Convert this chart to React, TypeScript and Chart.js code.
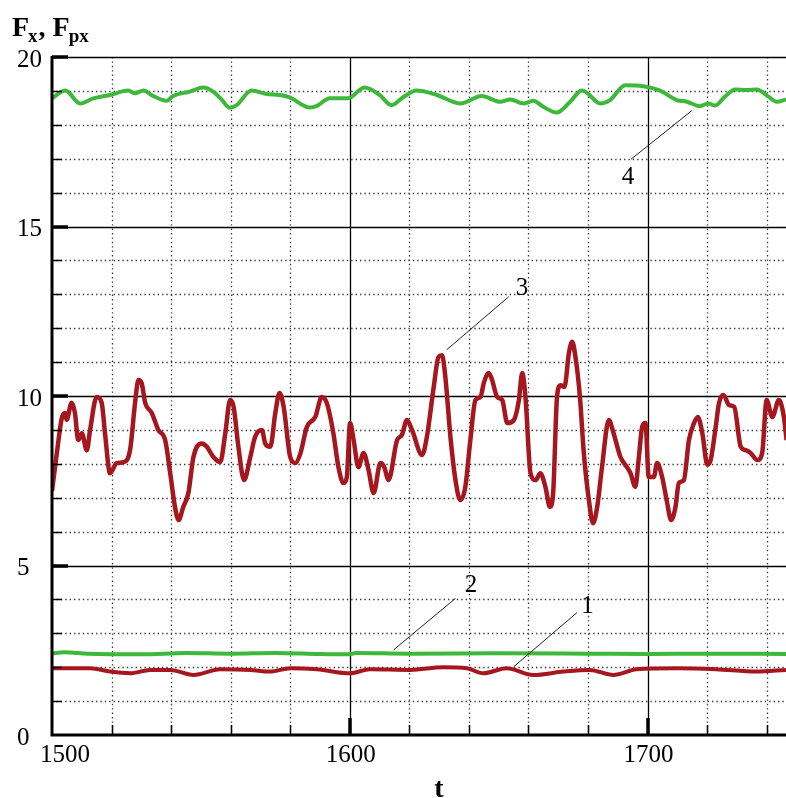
import React, { useEffect, useRef } from 'react';
import { Chart, registerables } from 'chart.js';

Chart.register(...registerables);

// ---- data ----
const t3 = [1500, 1501.6, 1503.3, 1504.4, 1504.9, 1506.6, 1507.7, 1508.8, 1510, 1511.7, 1512.8, 1515, 1516.7, 1517.8, 1519.5, 1521.7, 1524, 1526.2, 1527.9, 1529, 1530.1, 1531.3, 1533.5, 1535.7, 1538, 1539.7, 1541.3, 1542.5, 1544.1, 1545.8, 1547.5, 1550.3, 1552, 1554.2, 1556.5, 1558.2, 1559.8, 1561, 1562.6, 1564.5, 1566.6, 1568.2, 1570.5, 1571.6, 1573.3, 1575, 1576.4, 1577.8, 1580, 1581.7, 1583.4, 1585.6, 1588.4, 1590.6, 1592.3, 1594.5, 1596.2, 1597.9, 1599, 1600.1, 1601.3, 1602.9, 1604.6, 1606.3, 1608, 1610.3, 1611.6, 1613, 1615.9, 1617.5, 1619.2, 1620.9, 1624.3, 1625.9, 1628.2, 1629.8, 1631, 1632.1, 1633.8, 1635.5, 1637.1, 1638.8, 1640.5, 1642.2, 1643.9, 1645, 1646.7, 1647.8, 1649.5, 1651.2, 1652.9, 1655.1, 1656.8, 1657.9, 1659, 1660.7, 1662.4, 1664, 1665.7, 1667.2, 1668.3, 1669.6, 1670.8, 1672.1, 1673.6, 1674.7, 1675.8, 1677.3, 1678.6, 1680.3, 1681.7, 1683.1, 1684.7, 1687, 1688.6, 1690.9, 1693.1, 1694.3, 1695.9, 1697, 1698.2, 1699.3, 1700.4, 1702.1, 1703.2, 1704.9, 1706.6, 1707.9, 1709.4, 1710.5, 1712.2, 1713.9, 1715.6, 1716.9, 1718.4, 1720.1, 1721.2, 1722.9, 1724, 1725.5, 1727.4, 1729.1, 1731.3, 1733, 1734.6, 1736.9, 1738.5, 1740, 1741.9, 1744.1, 1745.8, 1746.7];
const f3 = [7.2, 8.3, 9.35, 9.5, 9.3, 9.8, 9.5, 8.7, 8.9, 8.4, 9.0, 9.97, 9.8, 8.9, 7.72, 8.02, 8.05, 8.4, 9.8, 10.47, 10.38, 9.8, 9.5, 9.0, 8.7, 7.72, 6.73, 6.34, 6.73, 7.14, 8.2, 8.6, 8.5, 8.2, 8.05, 8.9, 9.88, 9.68, 8.5, 7.52, 8.2, 8.8, 9.0, 8.6, 8.5, 9.5, 10.09, 9.68, 8.2, 8.02, 8.3, 9.09, 9.38, 9.97, 9.79, 8.9, 7.9, 7.43, 7.6, 9.2, 8.7, 7.9, 8.32, 7.82, 7.14, 8.02, 7.9, 7.52, 8.7, 8.85, 9.29, 9.0, 8.26, 8.8, 10.27, 11.15, 11.2, 10.56, 8.8, 7.52, 6.93, 7.32, 8.7, 9.88, 9.97, 10.38, 10.68, 10.47, 9.97, 9.88, 9.2, 9.29, 9.88, 10.68, 9.97, 7.72, 7.52, 7.72, 7.32, 6.73, 7.14, 9.97, 10.32, 10.27, 11.27, 11.6, 11.15, 9.97, 8.32, 6.93, 6.25, 6.73, 7.9, 9.29, 8.9, 8.2, 7.9, 7.72, 7.32, 8.11, 9.09, 9.2, 7.61, 7.61, 8.02, 7.61, 6.84, 6.34, 6.73, 7.43, 7.52, 8.7, 9.2, 9.38, 8.9, 7.97, 8.11, 9.09, 9.79, 10.03, 9.73, 9.68, 8.5, 8.4, 8.32, 8.11, 8.32, 9.88, 9.38, 9.88, 9.38, 8.7];

const t4 = [1500, 1504.5, 1509.4, 1513.9, 1519.5, 1525.6, 1527.9, 1530.7, 1534, 1538.5, 1540.7, 1546.3, 1550.8, 1554.1, 1556.9, 1559.7, 1562, 1567, 1572, 1576.5, 1579.8, 1586.6, 1588.8, 1593.3, 1599.4, 1605, 1610, 1614, 1617.9, 1622.4, 1629.2, 1637.1, 1644.3, 1650.5, 1653.9, 1658.3, 1661.7, 1665, 1669.5, 1674, 1677.9, 1679.6, 1684.1, 1687.4, 1692.5, 1698.6, 1704.2, 1709.8, 1713.2, 1717.6, 1720.4, 1722.7, 1726, 1729.4, 1733.3, 1736.7, 1740.6, 1743.4, 1746.5];
const f4 = [18.78, 19.01, 18.63, 18.78, 18.88, 19.01, 18.93, 19.01, 18.85, 18.71, 18.85, 18.98, 19.1, 18.98, 18.75, 18.5, 18.58, 19.01, 18.91, 18.88, 18.81, 18.51, 18.55, 18.78, 18.78, 19.1, 18.88, 18.58, 18.81, 19.01, 18.88, 18.63, 18.85, 18.68, 18.75, 18.63, 18.71, 18.53, 18.36, 18.68, 19.01, 18.95, 18.63, 18.73, 19.17, 19.14, 19.01, 18.73, 18.68, 18.55, 18.63, 18.57, 18.83, 19.04, 19.03, 19.04, 18.83, 18.68, 18.75];

const t2 = [1500, 1504, 1512, 1530, 1545, 1560, 1575, 1590, 1600, 1602, 1620, 1650, 1680, 1700, 1720, 1746.5];
const f2 = [2.4, 2.44, 2.4, 2.38, 2.42, 2.4, 2.42, 2.39, 2.38, 2.42, 2.4, 2.41, 2.4, 2.39, 2.4, 2.39];

const t1 = [1500, 1512.8, 1519.5, 1526.2, 1533, 1539.7, 1547.5, 1556.5, 1566.6, 1573.3, 1580, 1589, 1600.1, 1606.8, 1620.3, 1631.4, 1639.3, 1644.8, 1652.7, 1661.6, 1671.7, 1680.6, 1688.5, 1696.3, 1709.8, 1723, 1736.7, 1746.5];
const f1 = [1.97, 1.97, 1.87, 1.82, 1.92, 1.92, 1.77, 1.94, 1.92, 1.87, 1.97, 1.94, 1.82, 1.94, 1.92, 2.0, 1.97, 1.82, 1.97, 1.77, 1.87, 1.92, 1.77, 1.94, 1.97, 1.94, 1.87, 1.92];

const xTickLabels = ['1500', '1600', '1700'];
const yTickLabels = ['0', '5', '10', '15', '20'];

// curve labels and leader lines (data units)
const noteLabels = ['4', '3', '2', '1'];
const noteFrom = [[1714.9, 18.42], [1632.5, 11.36], [1614.7, 2.51], [1655.0, 2.01]];
const noteTo = [[1694.4, 16.98], [1653.4, 12.93], [1635.5, 4.03], [1676.3, 3.61]];
const noteAt = [[1693.4, 16.45], [1657.8, 13.17], [1640.7, 4.4], [1679.8, 3.78]];

const X_MIN = 1500;
const X_MAX = 1746.5;
const Y_MIN = 0;
const Y_MAX = 20;

const RED = '#A5161F';
const GREEN = '#3DB83A';
const SERIF = '"Liberation Serif", "Times New Roman", serif';

const pts = (ts: number[], vs: number[]) => ts.map((t, i) => ({ x: t, y: vs[i] }));

const decor = {
  id: 'decor',
  beforeDatasetsDraw(chart: any) {
    const { ctx, chartArea: a, scales } = chart;
    const x = scales.x;
    const y = scales.y;
    ctx.save();
    // minor dotted grid
    ctx.strokeStyle = '#3a3a3a';
    ctx.lineWidth = 1.3;
    ctx.setLineDash([1.4, 3]);
    for (let v = X_MIN + 20; v <= X_MAX; v += 20) {
      if (v % 100 === 0) continue;
      const px = Math.round(x.getPixelForValue(v)) + 0.5;
      ctx.beginPath(); ctx.moveTo(px, a.top); ctx.lineTo(px, a.bottom); ctx.stroke();
    }
    for (let v = Y_MIN + 1; v < Y_MAX; v += 1) {
      if (v % 5 === 0) continue;
      const py = Math.round(y.getPixelForValue(v)) + 0.5;
      ctx.beginPath(); ctx.moveTo(a.left, py); ctx.lineTo(a.right, py); ctx.stroke();
    }
    // major solid grid
    ctx.setLineDash([]);
    ctx.strokeStyle = '#000';
    ctx.lineWidth = 1.3;
    xTickLabels.forEach((s) => {
      const v = Number(s);
      if (v === X_MIN) return;
      const px = Math.round(x.getPixelForValue(v)) + 0.5;
      ctx.beginPath(); ctx.moveTo(px, a.top); ctx.lineTo(px, a.bottom); ctx.stroke();
    });
    yTickLabels.forEach((s) => {
      const v = Number(s);
      if (v === Y_MIN) return;
      const py = Math.round(y.getPixelForValue(v)) + 0.5;
      ctx.beginPath(); ctx.moveTo(a.left, py); ctx.lineTo(a.right, py); ctx.stroke();
    });
    ctx.restore();
  },
  afterDatasetsDraw(chart: any) {
    const { ctx, chartArea: a, scales } = chart;
    const x = scales.x;
    const y = scales.y;
    ctx.save();
    ctx.strokeStyle = '#000';
    ctx.fillStyle = '#000';
    // axes
    ctx.lineWidth = 3;
    ctx.beginPath();
    ctx.moveTo(a.left, a.top - 1);
    ctx.lineTo(a.left, a.bottom);
    ctx.lineTo(a.right, a.bottom);
    ctx.stroke();
    // minor ticks
    ctx.lineWidth = 1.5;
    for (let v = X_MIN + 20; v <= X_MAX; v += 20) {
      if (v % 100 === 0) continue;
      const px = Math.round(x.getPixelForValue(v)) + 0.5;
      ctx.beginPath(); ctx.moveTo(px, a.bottom); ctx.lineTo(px, a.bottom - 10); ctx.stroke();
    }
    for (let v = Y_MIN + 1; v < Y_MAX; v += 1) {
      if (v % 5 === 0) continue;
      const py = Math.round(y.getPixelForValue(v)) + 0.5;
      ctx.beginPath(); ctx.moveTo(a.left, py); ctx.lineTo(a.left + 10, py); ctx.stroke();
    }
    // major ticks
    ctx.lineWidth = 3.5;
    xTickLabels.forEach((s) => {
      const v = Number(s);
      if (v === X_MIN) return;
      const px = Math.round(x.getPixelForValue(v));
      ctx.beginPath(); ctx.moveTo(px, a.bottom); ctx.lineTo(px, a.bottom - 17); ctx.stroke();
    });
    yTickLabels.forEach((s) => {
      const v = Number(s);
      if (v === Y_MIN) return;
      const py = Math.round(y.getPixelForValue(v));
      ctx.beginPath(); ctx.moveTo(a.left, py); ctx.lineTo(a.left + 16, py); ctx.stroke();
    });
    // tick labels
    ctx.font = `25px ${SERIF}`;
    ctx.textBaseline = 'alphabetic';
    xTickLabels.forEach((s, i) => {
      const px = x.getPixelForValue(Number(s));
      if (i === 0) {
        ctx.textAlign = 'left';
        ctx.fillText(s, px - 12, a.bottom + 27);
      } else {
        ctx.textAlign = 'center';
        ctx.fillText(s, px + 1, a.bottom + 27);
      }
    });
    ctx.textAlign = 'left';
    ctx.textBaseline = 'middle';
    yTickLabels.forEach((s) => {
      const py = y.getPixelForValue(Number(s));
      ctx.fillText(s, 17, py + 3);
    });
    // axis titles
    ctx.textBaseline = 'alphabetic';
    ctx.textAlign = 'left';
    const big = `bold 28px ${SERIF}`;
    const small = `bold 19px ${SERIF}`;
    let cx = 12;
    ctx.font = big; ctx.fillText('F', cx, 36); cx += ctx.measureText('F').width - 1;
    ctx.font = small; ctx.fillText('x', cx, 42); cx += ctx.measureText('x').width + 1;
    ctx.font = big; ctx.fillText(',', cx, 36); cx += ctx.measureText(', ').width;
    ctx.fillText('F', cx, 36); cx += ctx.measureText('F').width - 1;
    ctx.font = small; ctx.fillText('px', cx, 42);
    ctx.font = big;
    ctx.textAlign = 'center';
    ctx.fillText('t', (a.left + a.right) / 2 + 20, 797);
    // curve labels
    ctx.strokeStyle = '#222';
    ctx.lineWidth = 1;
    noteLabels.forEach((s, i) => {
      ctx.beginPath();
      ctx.moveTo(x.getPixelForValue(noteFrom[i][0]), y.getPixelForValue(noteFrom[i][1]));
      ctx.lineTo(x.getPixelForValue(noteTo[i][0]), y.getPixelForValue(noteTo[i][1]));
      ctx.stroke();
    });
    ctx.font = `25px ${SERIF}`;
    ctx.textAlign = 'center';
    ctx.textBaseline = 'middle';
    noteLabels.forEach((s, i) => {
      ctx.fillText(s, x.getPixelForValue(noteAt[i][0]), y.getPixelForValue(noteAt[i][1]));
    });
    ctx.restore();
  },
};

export default function App() {
  const ref = useRef<HTMLCanvasElement | null>(null);
  useEffect(() => {
    if (!ref.current) return;
    const chart = new Chart(ref.current, {
      type: 'line',
      data: {
        datasets: [
          { data: pts(t3, f3), borderColor: RED, borderWidth: 4.5, cubicInterpolationMode: 'monotone', pointRadius: 0 },
          { data: pts(t4, f4), borderColor: GREEN, borderWidth: 4, cubicInterpolationMode: 'monotone', pointRadius: 0 },
          { data: pts(t2, f2), borderColor: GREEN, borderWidth: 4, cubicInterpolationMode: 'monotone', pointRadius: 0 },
          { data: pts(t1, f1), borderColor: RED, borderWidth: 4, cubicInterpolationMode: 'monotone', pointRadius: 0 },
        ] as any,
      },
      options: {
        responsive: false,
        maintainAspectRatio: false,
        animation: false,
        devicePixelRatio: 1,
        layout: { padding: { left: 52, right: 0, top: 57, bottom: 63 } },
        plugins: { legend: { display: false }, tooltip: { enabled: false } },
        scales: {
          x: { type: 'linear', min: X_MIN, max: X_MAX, display: false },
          y: { type: 'linear', min: Y_MIN, max: Y_MAX, display: false },
        },
      },
      plugins: [decor],
    });
    return () => chart.destroy();
  }, []);
  return (
    <canvas
      ref={ref}
      width={786}
      height={798}
      style={{ position: 'fixed', left: 0, top: 0, width: 786, height: 798, background: '#fff' }}
    />
  );
}
